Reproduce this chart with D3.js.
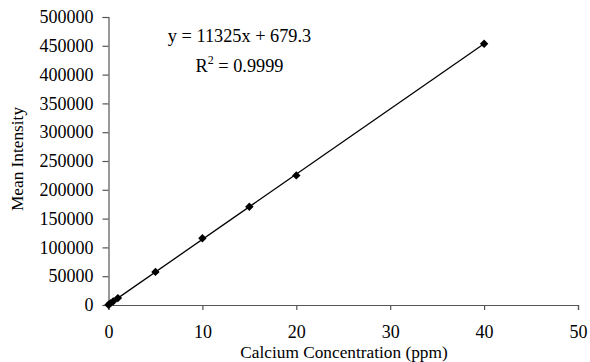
<!DOCTYPE html>
<html>
<head>
<meta charset="utf-8">
<script src="https://cdn.jsdelivr.net/npm/d3@7"></script>
<style>
  body { margin: 0; background: #fff; }
  svg { font-family: "Liberation Serif", "Times New Roman", serif; }
</style>
</head>
<body>
<script>
// calibration standards (ppm) and measured mean intensity
const concentration = [0, 0.2, 0.5, 1, 5, 10, 15, 20, 40];
const intensity = [500, 2900, 6300, 12000, 57500, 116000, 170500, 225000, 453500];
const xTicks = [0, 10, 20, 30, 40, 50];
const yTicks = [0, 50000, 100000, 150000, 200000, 250000, 300000, 350000, 400000, 450000, 500000];
const slope = 11325, intercept = 679.3;
const eqLines = ["y = 11325x + 679.3", "R2 = 0.9999"];

const width = 590, height = 362;
const svg = d3.select("body").append("svg")
    .attr("width", width)
    .attr("height", height);

const x = d3.scaleLinear().domain([0, 50]).range([108.5, 578]);
const y = d3.scaleLinear().domain([0, 500000]).range([305, 17]);

// axes
const xAxis = svg.append("g")
    .attr("transform", `translate(0,${y(0)})`)
    .call(d3.axisBottom(x).tickValues(xTicks).tickSize(5).tickPadding(15).tickFormat(d3.format("d")));
xAxis.selectAll("text").attr("dy", null);
const yAxis = svg.append("g")
    .attr("transform", `translate(${x(0)},0)`)
    .call(d3.axisLeft(y).tickValues(yTicks).tickSize(6).tickPadding(9).tickFormat(d3.format("d")));

[xAxis, yAxis].forEach(a => {
    a.attr("font-family", null).attr("font-size", null);
    a.selectAll("text").attr("font-size", 18).attr("fill", "#000");
    a.selectAll("line, path").attr("stroke", "#555").attr("stroke-width", 1.2);
});
xAxis.selectAll("text").attr("y", 33);

// trend line
const line = d3.line().x(d => x(d)).y(d => y(slope * d + intercept));
svg.append("path")
    .attr("d", line([0, d3.max(concentration)]))
    .attr("fill", "none")
    .attr("stroke", "#000")
    .attr("stroke-width", 1.3);

// markers
const diamond = d3.symbol().type(d3.symbolDiamond2).size(45);
svg.append("g").selectAll("path")
    .data(concentration)
    .enter()
    .append("path")
    .attr("d", diamond)
    .attr("transform", (d, i) => `translate(${x(d)},${y(intensity[i])})`)
    .attr("fill", "#000");

// equation
const eq = svg.append("g").attr("font-size", 18.3).attr("fill", "#000");
eq.append("text").attr("x", 239.5).attr("y", 42).attr("text-anchor", "middle").text(eqLines[0]);
const r2 = eq.append("text").attr("x", 239.5).attr("y", 71.5).attr("text-anchor", "middle");
r2.append("tspan").text("R");
r2.append("tspan").attr("font-size", 12).attr("dy", -8).text("2");
r2.append("tspan").attr("dy", 8).text(" = 0.9999");

// axis titles
svg.append("text")
    .attr("x", 344)
    .attr("y", 358)
    .attr("text-anchor", "middle")
    .attr("font-size", 17.3)
    .text("Calcium Concentration (ppm)");
svg.append("text")
    .attr("transform", "translate(23,159) rotate(-90)")
    .attr("text-anchor", "middle")
    .attr("font-size", 17.3)
    .text("Mean Intensity");
</script>
</body>
</html>
